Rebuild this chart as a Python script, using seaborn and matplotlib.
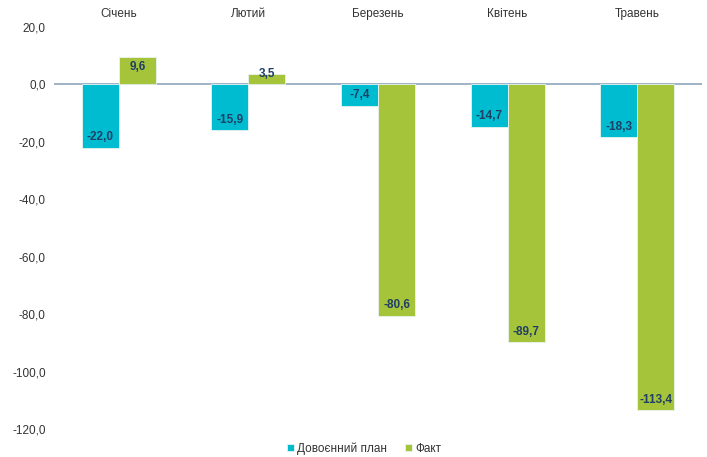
import pandas as pd
import matplotlib.pyplot as plt
import seaborn as sns

months = ["Січень", "Лютий", "Березень", "Квітень", "Травень"]
plan = [-22.0, -15.9, -7.4, -14.7, -18.3]
fact = [9.6, 3.5, -80.6, -89.7, -113.4]
series = ["Довоєнний план", "Факт"]
yticks = [20, 0, -20, -40, -60, -80, -100, -120]

df = pd.DataFrame({
    "month": months * 2,
    "value": plan + fact,
    "series": [series[0]] * len(months) + [series[1]] * len(months),
})

sns.set_theme(style="white")
plt.rcParams['font.family'] = ['Liberation Sans', 'DejaVu Sans']

fig = plt.figure(figsize=(7.07, 4.57), dpi=100)
ax = fig.add_axes([54 / 707, 28 / 457, 648 / 707, 402 / 457])

palette = {series[0]: "#00BCD0", series[1]: "#A6C43A"}
sns.barplot(data=df, x="month", y="value", hue="series", order=months,
            hue_order=series, palette=palette, width=0.57, saturation=1,
            edgecolor="#E8F4F0", linewidth=0.6, ax=ax, legend=True)

ax.set_ylim(-120, 20)
ax.set_yticks(yticks)
ax.set_yticklabels([f"{t:.1f}".replace(".", ",") for t in yticks],
                   fontsize=8.5, color="#333333")
ax.axhline(0, color="#8FA5BE", lw=1.2, zorder=0.5)

ax.xaxis.tick_top()
ax.tick_params(axis="x", length=0, pad=5, labelsize=8.5, labelcolor="#333333")
ax.tick_params(axis="y", length=0, pad=6)
ax.set_xlabel("")
ax.set_ylabel("")
for s in ax.spines.values():
    s.set_visible(False)
ax.grid(False)

# data labels at the inner end of each bar
for cont in ax.containers:
    for bar in cont:
        v = bar.get_height()
        x = bar.get_x() + bar.get_width() / 2
        if abs(v) < 5:
            dy = 0
        elif v < 0:
            dy = 7.5
        else:
            dy = -7.5
        ax.annotate(f"{v:.1f}".replace(".", ","), (x, v), xytext=(0, dy),
                    textcoords="offset points", ha="center", va="center",
                    fontsize=8.5, fontweight="bold", color="#1F3F66")

handles, labels = ax.get_legend_handles_labels()
ax.legend_.remove()
fig.legend(handles, labels, loc="lower center", bbox_to_anchor=(0.515, -0.018),
           ncol=2, frameon=False, fontsize=8.5, handlelength=0.6, handleheight=0.6,
           handletextpad=0.3, columnspacing=1.5, labelcolor="#333333")

fig.savefig("out.png", dpi=100)
